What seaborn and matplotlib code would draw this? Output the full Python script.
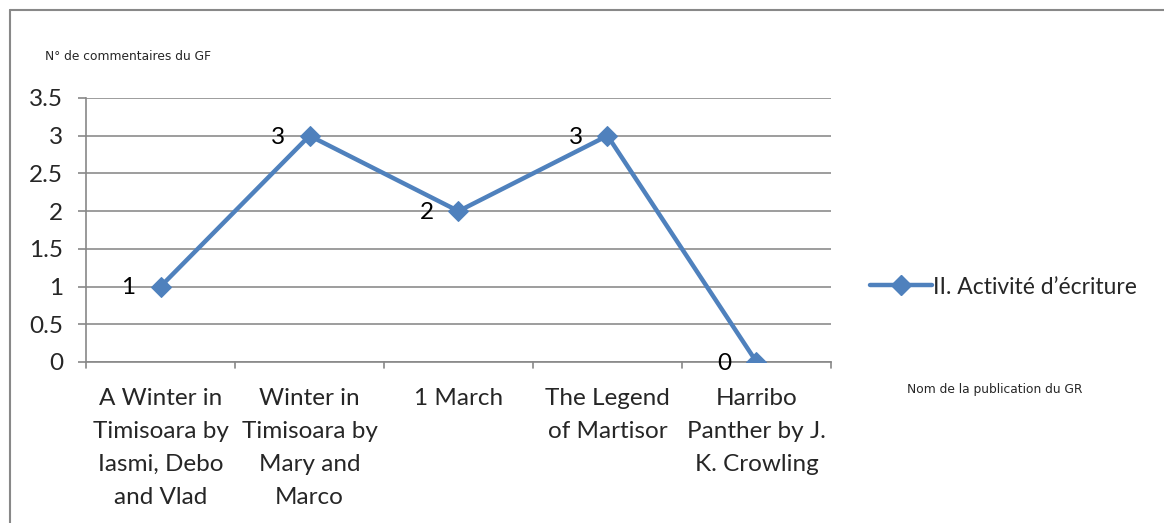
import matplotlib
matplotlib.use("Agg")
import matplotlib.pyplot as plt
from matplotlib.lines import Line2D
import seaborn as sns
import pandas as pd

# Publications and number of comments received
publications = [
    "A Winter in\nTimisoara by\nIasmi, Debo\nand Vlad",
    "Winter in\nTimisoara by\nMary and\nMarco",
    "1 March",
    "The Legend\nof Martisor",
    "Harribo\nPanther by J.\nK. Crowling",
]
comments = [1, 3, 2, 3, 0]
series_name = "II. Activité d’écriture"
y_ticks = [0, 0.5, 1, 1.5, 2, 2.5, 3, 3.5]
y_tick_labels = ["0", "0.5", "1", "1.5", "2", "2.5", "3", "3.5"]
y_title = "N° de commentaires du GF"
x_title = "Nom de la publication du GR"

sns.set_theme(style="white")
plt.rcParams["font.family"] = ["Lato", "DejaVu Sans"]

FS = 17.5
W, H = 1164, 523
fig = plt.figure(figsize=(W / 100, H / 100), dpi=100)
ax = fig.add_axes([86 / W, 1 - 362 / H, (831 - 86) / W, (362 - 98) / H])

df = pd.DataFrame({"pos": range(len(publications)), "val": comments})
blue = "#4F81BD"
sns.lineplot(data=df, x="pos", y="val", ax=ax, color=blue, linewidth=3.2,
             marker="D", markersize=10, markeredgecolor=blue, zorder=3)

ax.set_xlim(-0.5, len(publications) - 0.5)
ax.set_ylim(0, 3.5)
ax.set_yticks(y_ticks)
ax.set_yticklabels(y_tick_labels, fontsize=FS)
ax.set_xticks(range(len(publications)))
ax.set_xticklabels(publications, fontsize=FS, linespacing=1.7, va="top")
ax.tick_params(axis="x", length=0, pad=19)
ax.tick_params(axis="y", length=6, color="#888888", width=1.2, pad=10.5, left=True)
ax.set_xlabel("")
ax.set_ylabel("")

# Category boundary ticks on the bottom axis
for b in range(len(publications) + 1):
    ax.plot([b - 0.5, b - 0.5], [0, -0.08], color="#888888", lw=1.2,
            clip_on=False, zorder=2)

ax.grid(axis="y", color="#8c8c8c", linewidth=1.2)
ax.grid(axis="x", visible=False)
for side in ["top", "right"]:
    ax.spines[side].set_visible(False)
for side in ["left", "bottom"]:
    ax.spines[side].set_color("#888888")
    ax.spines[side].set_linewidth(1.2)

# Value labels to the left of each point
for i, v in enumerate(comments):
    ax.annotate(str(v), (i, v), xytext=(-23, -1), textcoords="offset points",
                ha="center", va="center", fontsize=FS, color="black")

# Axis titles
fig.text(45 / W, 1 - 56 / H, y_title, fontsize=8.8, ha="left", va="center",
         family="DejaVu Sans")
fig.text(995 / W, 1 - 390 / H, x_title, fontsize=8.8, ha="center", va="center",
         family="DejaVu Sans")

# Legend
handle = Line2D([], [], color=blue, linewidth=3.2, marker="D", markersize=10)
fig.legend([handle], [series_name], loc="center left",
           bbox_to_anchor=(870 / W, 1 - 287 / H), frameon=False, fontsize=16.5,
           handlelength=2.7, handletextpad=0.05, borderaxespad=0, borderpad=0)

# Chart area border
fig.add_artist(Line2D([10.5 / W, 10.5 / W], [0, 1 - 9.5 / H], color="#888888",
                      lw=1.5, transform=fig.transFigure))
fig.add_artist(Line2D([10.5 / W, 1], [1 - 9.5 / H, 1 - 9.5 / H], color="#888888",
                      lw=1.5, transform=fig.transFigure))

fig.savefig("out.png", dpi=100)
